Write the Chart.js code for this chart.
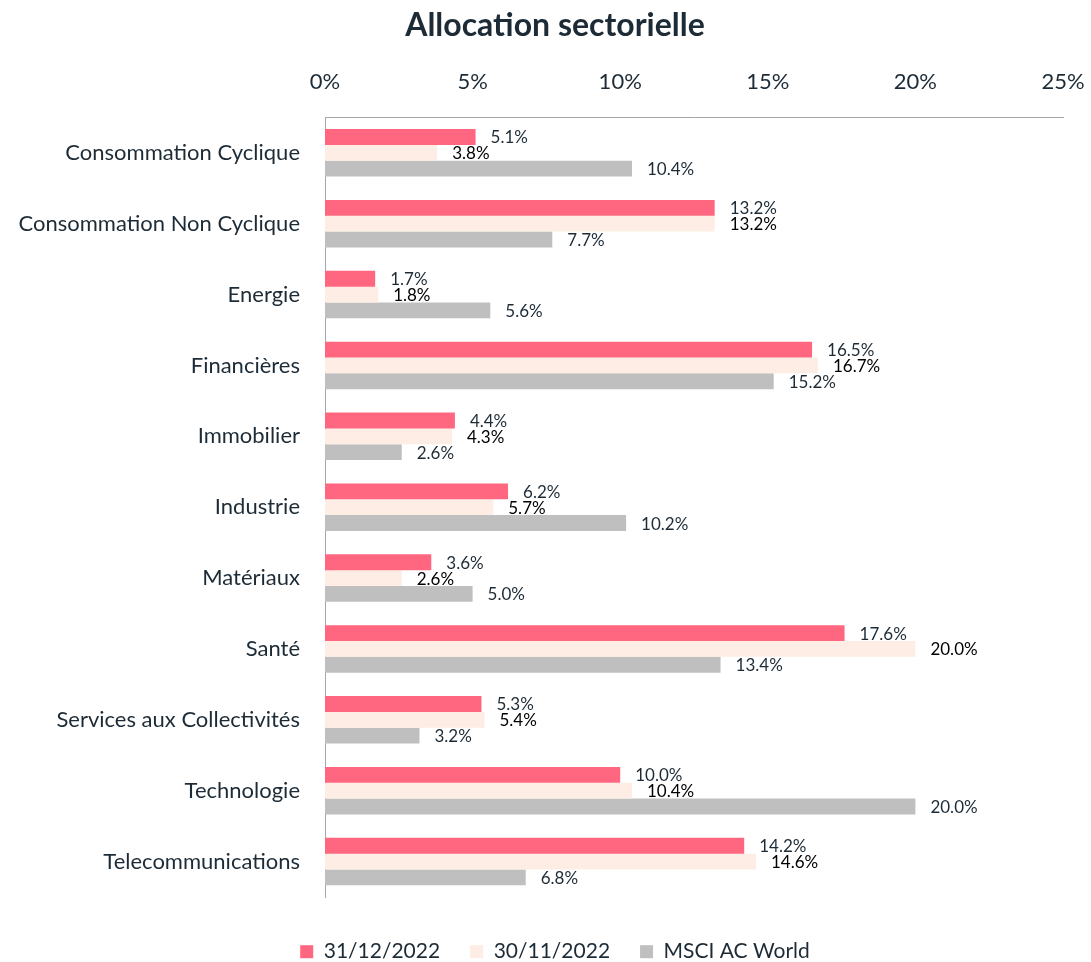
<!DOCTYPE html>
<html>
<head>
<meta charset="utf-8">
<script src="https://cdn.jsdelivr.net/npm/chart.js@4.4.1/dist/chart.umd.min.js"></script>
<style>
    html, body { margin: 0; padding: 0; background: #ffffff; }
    #wrap { width: 1091px; height: 962px; }
</style>
</head>
<body>
<div id="wrap"><canvas id="allocChart" width="1091" height="962"></canvas></div>
<script>
// categories and values (in %)
var sectors = [
    "Consommation Cyclique", "Consommation Non Cyclique", "Energie", "Financières",
    "Immobilier", "Industrie", "Matériaux", "Santé", "Services aux Collectivités",
    "Technologie", "Telecommunications"
];
var fundDec = [5.1, 13.2, 1.7, 16.5, 4.4, 6.2, 3.6, 17.6, 5.3, 10.0, 14.2];
var fundNov = [3.8, 13.2, 1.8, 16.7, 4.3, 5.7, 2.6, 20.0, 5.4, 10.4, 14.6];
var msciWorld = [10.4, 7.7, 5.6, 15.2, 2.6, 10.2, 5.0, 13.4, 3.2, 20.0, 6.8];
var seriesNames = ["31/12/2022", "30/11/2022", "MSCI AC World"];
var xTicks = [0, 5, 10, 15, 20, 25];

var textColor = "#1d2b36";
var fontFamily = "Lato, 'Open Sans', sans-serif";

// draw the value next to the end of every bar
var barValueLabels = {
    id: 'barValueLabels',
    afterDatasetsDraw: function(chart) {
        var ctx = chart.ctx;
        ctx.save();
        ctx.font = "17px " + fontFamily;
        ctx.textAlign = "left";
        ctx.textBaseline = "middle";
        chart.data.datasets.forEach(function(ds, i) {
            var meta = chart.getDatasetMeta(i);
            ctx.fillStyle = i === 1 ? "#000000" : textColor;
            meta.data.forEach(function(bar, j) {
                ctx.fillText(ds.data[j].toFixed(1) + "%", bar.x + 15, bar.y + 1);
            });
        });
        ctx.restore();
    }
};

// fixed legend height, and title / legend centred a bit to the right
var blockPlacement = {
    id: 'blockPlacement',
    beforeInit: function(chart) {
        var fit = chart.legend.fit;
        chart.legend.fit = function() {
            fit.bind(chart.legend)();
            this.height = 65;
        };
    },
    afterLayout: function(chart) {
        chart.titleBlock.left = 47;
        chart.legend.left = 47;
    }
};

new Chart(document.getElementById("allocChart"), {
    type: 'bar',
    data: {
        labels: sectors,
        datasets: [
            { label: seriesNames[0], data: fundDec, backgroundColor: "#ff667f" },
            { label: seriesNames[1], data: fundNov, backgroundColor: "#fdede4" },
            { label: seriesNames[2], data: msciWorld, backgroundColor: "#bfbfbf" }
        ]
    },
    options: {
        indexAxis: 'y',
        responsive: false,
        animation: false,
        layout: { padding: { left: 0, right: 28, top: 0, bottom: 0 } },
        datasets: {
            bar: { barPercentage: 1.0, categoryPercentage: 0.67 }
        },
        scales: {
            x: {
                position: 'top',
                min: 0,
                max: 25,
                afterBuildTicks: function(scale) {
                    scale.ticks = xTicks.map(function(v) { return { value: v }; });
                },
                afterFit: function(scale) {
                    scale.height = 65;
                    scale.paddingLeft = 0;
                    scale.paddingRight = 0;
                },
                grid: { display: false, drawTicks: false },
                border: { display: true, color: "#a6a6a6", width: 1 },
                ticks: {
                    padding: 22,
                    color: textColor,
                    font: { family: fontFamily, size: 22 },
                    callback: function(v) { return v + "%"; }
                }
            },
            y: {
                afterFit: function(scale) { scale.width = 325; },
                grid: { display: false, drawTicks: false },
                border: { display: true, color: "#a6a6a6", width: 1 },
                ticks: {
                    padding: 25,
                    color: textColor,
                    font: { family: fontFamily, size: 22 }
                }
            }
        },
        plugins: {
            title: {
                display: true,
                text: "Allocation sectorielle",
                color: textColor,
                font: { family: fontFamily, size: 32, weight: 'bold' },
                padding: { top: 6, bottom: 8 }
            },
            legend: {
                position: 'bottom',
                title: { display: true, text: ' ', font: { size: 1 }, padding: { top: 13, bottom: 0 } },
                labels: {
                    color: textColor,
                    font: { family: fontFamily, size: 21 },
                    boxWidth: 13,
                    boxHeight: 13,
                    padding: 30
                }
            },
            tooltip: { enabled: false }
        }
    },
    plugins: [barValueLabels, blockPlacement]
});
</script>
</body>
</html>
